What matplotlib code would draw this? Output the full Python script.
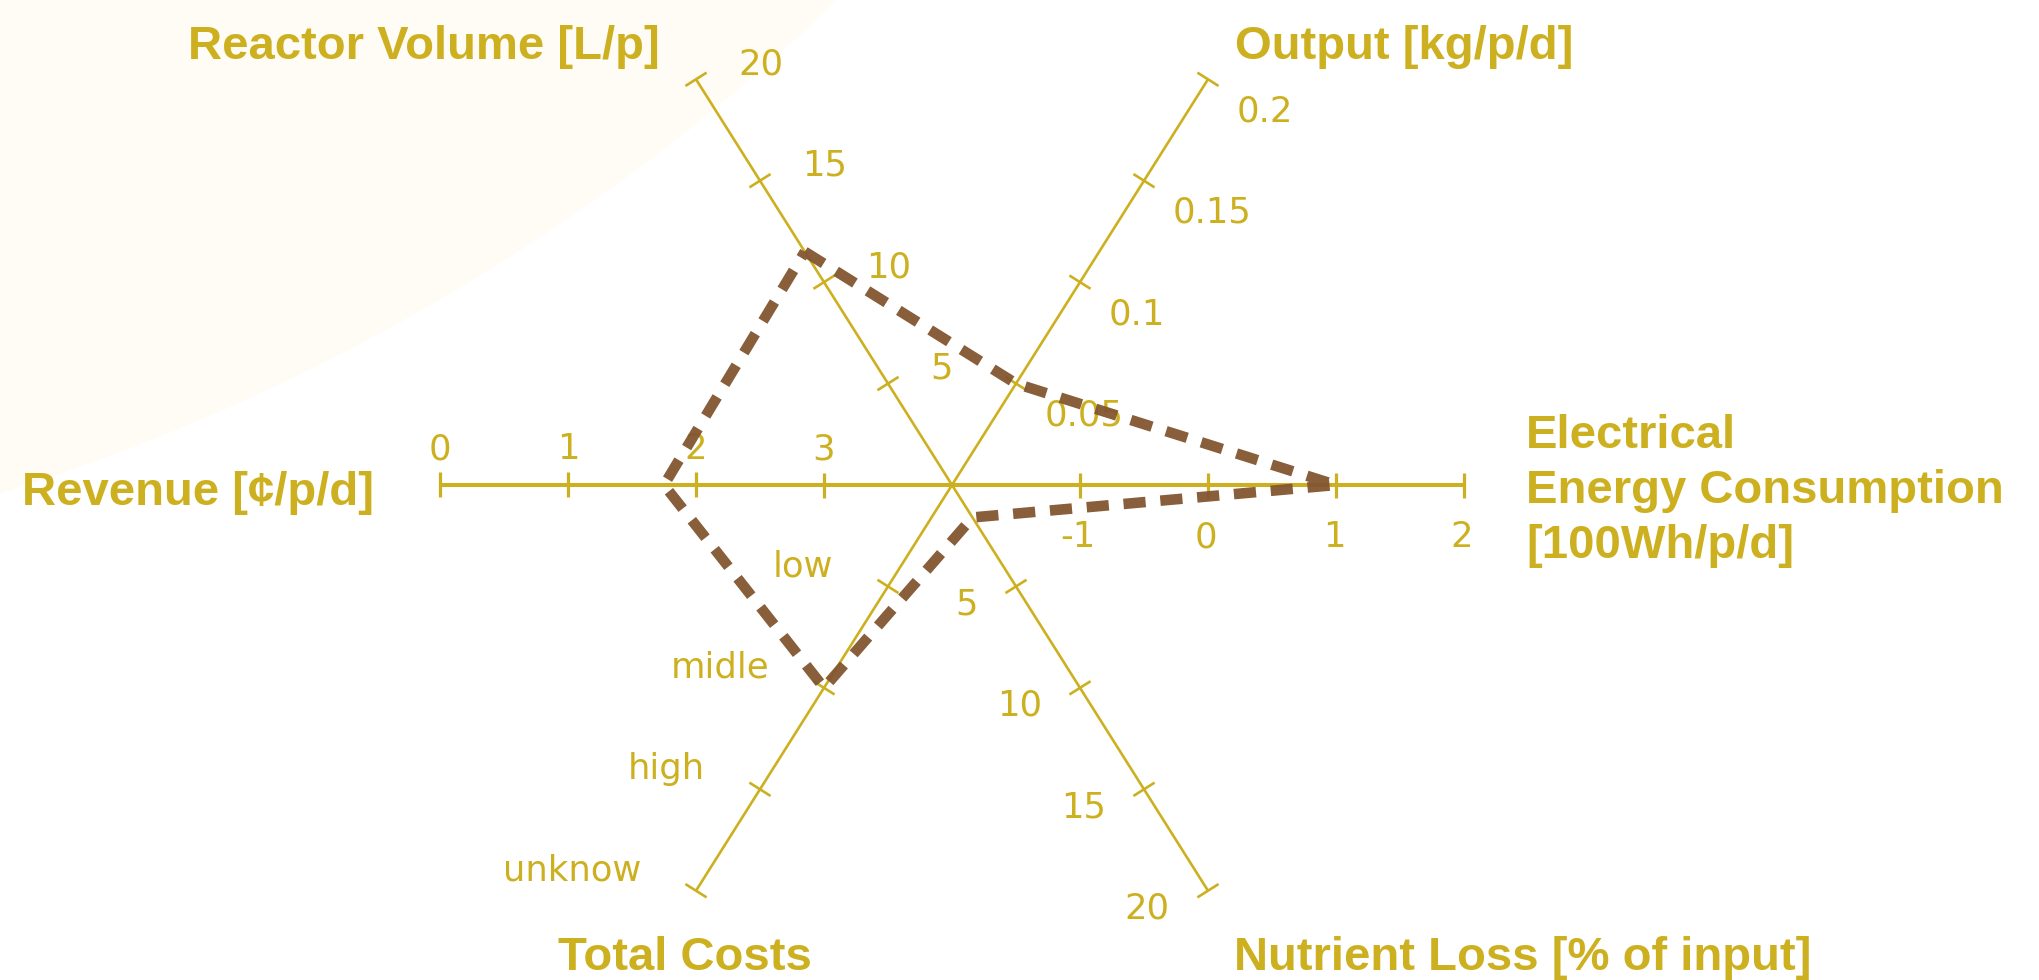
import numpy as np
import matplotlib.pyplot as plt
from matplotlib.patches import Circle

# axes of the star chart, counter-clockwise from upper left
axis_titles = ["Reactor Volume [L/p]", "Output [kg/p/d]",
               "Electrical\nEnergy Consumption\n[100Wh/p/d]",
               "Nutrient Loss [% of input]", "Total Costs", "Revenue [¢/p/d]"]
axis_angles = [120, 60, 0, -60, -120, 180]
# value at the centre and value at the outer end of each axis
axis_start = [0, 0, -2, 0, 0, 4]
axis_end = [20, 0.2, 2, 20, 4, 0]

reactor_ticks = [5, 10, 15, 20]
output_ticks = [0.05, 0.1, 0.15, 0.2]
energy_ticks = [-1, 0, 1, 2]
nutrient_ticks = [5, 10, 15, 20]
cost_levels = ["low", "midle", "high", "unknow"]
revenue_ticks = [0, 1, 2, 3]

# the system that is plotted
reactor_volume = 11.5
output = 0.05
energy = 1.0
nutrient_loss = 1.6
total_costs = "midle"
revenue = 1.75

GOLD = "#CDB020"
BROWN = "#825530"
CREAM = "#FFFCF5"

W, H = 2040, 980
cx, cy = 952, 485     # centre of the star, pixels
L = 512               # axis length
squash = 0.915        # the diagonals are a bit flatter than 60 deg


def direction(i):
    a = np.deg2rad(axis_angles[i])
    d = np.array([np.cos(a), -np.sin(a) * squash])
    return d


def pos(i, value):
    frac = (value - axis_start[i]) / (axis_end[i] - axis_start[i])
    return np.array([cx, cy]) + direction(i) * L * frac


fig = plt.figure(figsize=(W / 100, H / 100), dpi=100)
ax = fig.add_axes([0, 0, 1, 1])
ax.set_xlim(0, W)
ax.set_ylim(H, 0)
ax.axis("off")

ax.add_patch(Circle((-630, -1533), 2122, color=CREAM, zorder=0, lw=0))

tick_lists = [reactor_ticks, output_ticks, energy_ticks, nutrient_ticks,
              [1, 2, 3, 4], revenue_ticks]
tick_texts = [[str(t) for t in reactor_ticks], [str(t) for t in output_ticks],
              [str(t) for t in energy_ticks], [str(t) for t in nutrient_ticks],
              cost_levels, [str(t) for t in revenue_ticks]]
# label offset from the tick (dx, dy to baseline) and alignment
label_offs = [(42, -5, "left"), (29, 42, "left"), (-2, 62, "center"),
              (-38, 28, "right"), (-55, -10, "right"), (0, -26, "center")]

for i in range(6):
    horiz = axis_angles[i] in (0, 180)
    lw = 2.9 if horiz else 1.9
    p0 = pos(i, axis_start[i])
    p1 = pos(i, axis_end[i])
    ax.plot([p0[0], p1[0]], [p0[1], p1[1]], color=GOLD, lw=lw,
            solid_capstyle="butt", zorder=2)
    d = direction(i)
    d = d / np.hypot(*d)
    perp = np.array([-d[1], d[0]])
    for t, txt in zip(tick_lists[i], tick_texts[i]):
        p = pos(i, t)
        a = p - perp * 12.5
        b = p + perp * 12.5
        ax.plot([a[0], b[0]], [a[1], b[1]], color=GOLD,
                lw=2.3 if horiz else 1.9, solid_capstyle="butt", zorder=2)
        dx, dy, ha = label_offs[i]
        ax.text(p[0] + dx, p[1] + dy, txt, color=GOLD, fontsize=25.5,
                family="DejaVu Sans", ha=ha, va="baseline", zorder=3)

# axis titles: (x, first baseline, alignment)
title_pos = [(660, 59, "right"), (1235, 59, "left"), (1526, 448, "left"),
             (1234, 970, "left"), (685, 970, "center"), (22, 505, "left")]
for title, (x, y, ha) in zip(axis_titles, title_pos):
    for k, line in enumerate(title.split("\n")):
        ax.text(x, y + k * 55, line, color=GOLD, fontsize=34,
                fontweight="bold", family="Liberation Sans", ha=ha,
                va="baseline", zorder=3)

values = [reactor_volume, output, energy, nutrient_loss,
          cost_levels.index(total_costs) + 1, revenue]
pts = np.array([pos(i, v) for i, v in enumerate(values)])
pts = np.vstack([pts, pts[:1]])
ax.plot(pts[:, 0], pts[:, 1], color=BROWN, lw=7.6, alpha=0.95,
        linestyle=(0, (2.1, 1.4)), dash_capstyle="butt",
        dash_joinstyle="miter", zorder=4)

fig.savefig("out.png", dpi=100)
